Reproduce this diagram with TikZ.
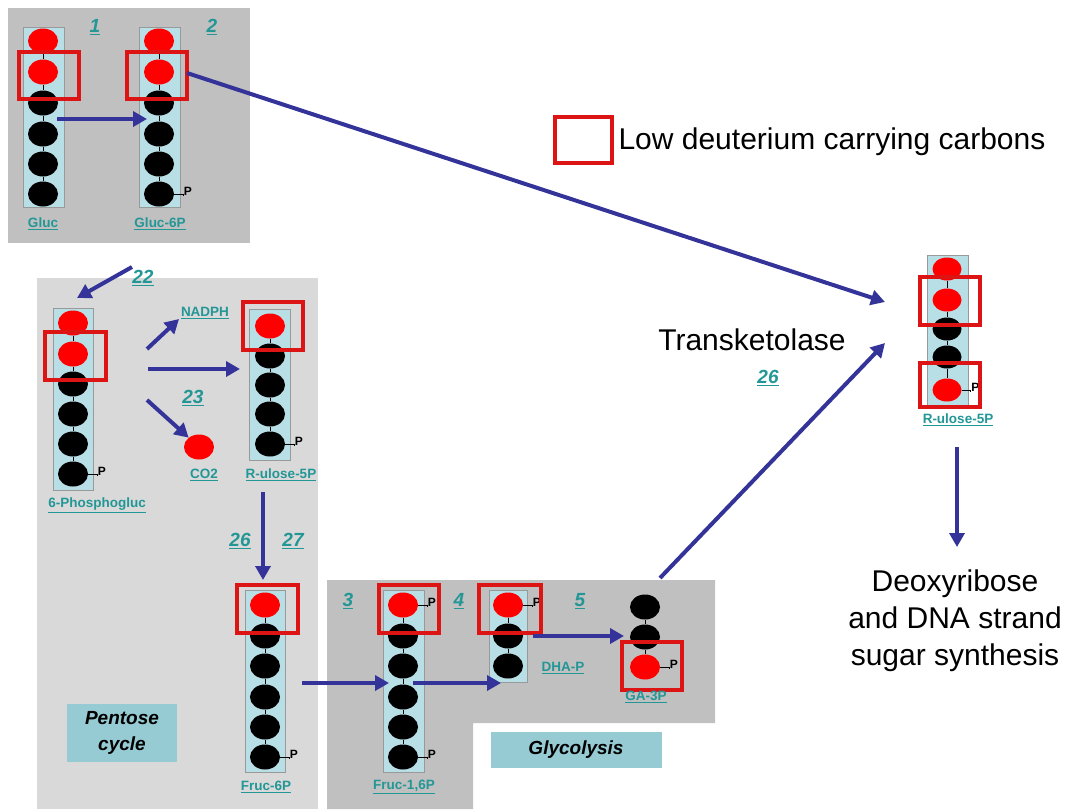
\documentclass[tikz,border=0pt]{standalone}
\usepackage{fontspec}
\setmainfont{Liberation Sans}
\usepackage{tikz}
\usetikzlibrary{arrows.meta}
\usetikzlibrary{positioning}
\usetikzlibrary{shapes.geometric}
\definecolor{arrowblue}{RGB}{51,51,153}
\definecolor{tealtxt}{RGB}{35,150,150}
\definecolor{stripcyan}{RGB}{184,222,230}
\definecolor{labcyan}{RGB}{150,203,212}
\definecolor{glygray}{RGB}{192,192,192}
\definecolor{pentgray}{RGB}{217,217,217}
\definecolor{boxred}{RGB}{220,20,20}

\tikzset{
  carb/.style={ellipse,minimum width=30pt,minimum height=25pt,inner sep=0pt},
  bond/.style={black,line width=1pt},
  strip/.style={fill=stripcyan,draw=gray!80,line width=0.6pt},
  lowbox/.style={draw=boxred,line width=3.6pt},
  flow/.style={arrowblue,line width=4pt,-{Triangle[length=14pt,width=15pt]}},
  molname/.style={text=tealtxt,font=\fontsize{13.5}{15}\selectfont\bfseries},
  stepnum/.style={text=tealtxt,font=\fontsize{19}{21}\selectfont\bfseries\itshape},
  plbl/.style={font=\fontsize{12}{14}\selectfont\bfseries,inner sep=0.5pt},
  bigtxt/.style={font=\fontsize{30}{37}\selectfont,align=center},
  pathname/.style={fill=labcyan,font=\fontsize{19}{26}\selectfont\bfseries\itshape,align=center}
}

\begin{document}
\begin{tikzpicture}[x=1pt,y=-1pt,line cap=butt,line join=miter]
\useasboundingbox (0,0) rectangle (1068,809);
% grey areas
\fill[glygray] (8,8) rectangle (250,243);
\fill[pentgray] (37,278) rectangle (318,809);
\fill[glygray] (327,580) -- (715,580) -- (715,723) -- (473,723) -- (473,809) -- (327,809) -- cycle;
\node[pathname,minimum width=110pt,minimum height=58pt] (pent) at (122,733) {Pentose\\cycle};
\node[pathname,minimum width=171pt,minimum height=36pt] (glyc) at (576,750) {Glycolysis};

% strips
\draw[strip] (23,27) rectangle (64,207);
\draw[strip] (139,27) rectangle (180,207);
\draw[strip] (53,308) rectangle (93,490);
\draw[strip] (249,309) rectangle (290,460);
\draw[strip] (245,590) rectangle (285,772);
\draw[strip] (383,590) rectangle (424,772);
\draw[strip] (489,590) rectangle (527,682);
\draw[strip] (927,255) rectangle (968,407);

% carbon chains
\foreach \y/\col [count=\i, remember=\i as \p (initially 0)] in {41/red,72/red,103/black,134/black,164/black,194/black}{
  \node[carb,fill=\col] (gl\i) at (43,\y) {};
  \node[carb,fill=\col] (gs\i) at (159,\y) {};
  \ifnum\i>1 \draw[bond] (gl\p) -- (gl\i); \draw[bond] (gs\p) -- (gs\i); \fi
}
\foreach \y/\col [count=\i, remember=\i as \p (initially 0)] in {323/red,354/red,384/black,414/black,444/black,474/black}{
  \node[carb,fill=\col] (pg\i) at (73,\y) {};
  \ifnum\i>1 \draw[bond] (pg\p) -- (pg\i); \fi
}
\foreach \y/\col [count=\i, remember=\i as \p (initially 0)] in {326/red,356/black,385/black,414/black,444/black}{
  \node[carb,fill=\col] (ru\i) at (270,\y) {};
  \ifnum\i>1 \draw[bond] (ru\p) -- (ru\i); \fi
}
\foreach \y/\col [count=\i, remember=\i as \p (initially 0)] in {605/red,636/black,666/black,697/black,727/black,757/black}{
  \node[carb,fill=\col] (fs\i) at (265,\y) {};
  \node[carb,fill=\col] (fb\i) at (403,\y) {};
  \ifnum\i>1 \draw[bond] (fs\p) -- (fs\i); \draw[bond] (fb\p) -- (fb\i); \fi
}
\foreach \y/\col [count=\i, remember=\i as \p (initially 0)] in {605/red,636/black,666/black}{
  \node[carb,fill=\col] (dh\i) at (508,\y) {};
  \ifnum\i>1 \draw[bond] (dh\p) -- (dh\i); \fi
}
\foreach \y/\col [count=\i, remember=\i as \p (initially 0)] in {607/black,637/black,667/red}{
  \node[carb,fill=\col] (ga\i) at (645,\y) {};
  \ifnum\i>1 \draw[bond] (ga\p) -- (ga\i); \fi
}
\foreach \y/\col [count=\i, remember=\i as \p (initially 0)] in {269/red,300/red,329/black,357/black,390/red}{
  \node[carb,fill=\col,minimum width=29pt,minimum height=23pt] (rr\i) at (947,\y) {};
  \ifnum\i>1 \draw[bond] (rr\p) -- (rr\i); \fi
}
\node[carb,fill=red] (co2) at (199,447) {};

% phosphates
\node[plbl,right=9pt of gs6,yshift=3pt] (gsP) {P};
\node[plbl,right=9pt of pg6,yshift=3pt] (pgP) {P};
\node[plbl,right=9pt of ru5,yshift=3pt] (ruP) {P};
\node[plbl,right=9pt of fs6,yshift=3pt] (fsP) {P};
\node[plbl,right=9pt of fb1,yshift=3pt] (fbP) {P};
\node[plbl,right=9pt of fb6,yshift=3pt] (fbQ) {P};
\node[plbl,right=9pt of dh1,yshift=3pt] (dhP) {P};
\node[plbl,right=9pt of ga3,yshift=3pt] (gaP) {P};
\node[plbl,right=9pt of rr5,yshift=3pt] (rrP) {P};
\foreach \a/\b in {gs6/gsP,pg6/pgP,ru5/ruP,fs6/fsP,fb1/fbP,fb6/fbQ,dh1/dhP,ga3/gaP,rr5/rrP}
  \draw[bond] (\a.east) -- (\a.east -| \b.west) -- (\b.south west);

% low deuterium boxes
\draw[lowbox] (19,52) rectangle (79,99);
\draw[lowbox] (127,52) rectangle (187,99);
\draw[lowbox] (45,332) rectangle (106,380);
\draw[lowbox] (243,302) rectangle (303,350);
\draw[lowbox] (237,585) rectangle (298,633);
\draw[lowbox] (379,585) rectangle (439,633);
\draw[lowbox] (479,585) rectangle (541,633);
\draw[lowbox] (622,642) rectangle (682,690);
\draw[lowbox] (920,277) rectangle (980,325);
\draw[lowbox] (920,363) rectangle (980,407);
\draw[lowbox] (555,117) rectangle (612,163);
\node[bigtxt,anchor=west] (legend) at (615,142) {Low deuterium carrying carbons};

% names
\node[molname] (nGl) at (43,224) {\underline{Gluc}};
\node[molname] (nGs) at (160,224) {\underline{Gluc-6P}};
\node[molname] (nPg) at (97,505) {\underline{6-Phosphogluc}};
\node[molname] (nNa) at (205,313) {\underline{NADPH}};
\node[molname] (nCo) at (204,475) {\underline{CO2}};
\node[molname] (nRu) at (281,475) {\underline{R-ulose-5P}};
\node[molname] (nFs) at (266,787) {\underline{Fruc-6P}};
\node[molname] (nFb) at (404,787) {\underline{Fruc-1,6P}};
\node[molname] (nDh) at (563,668) {\underline{DHA-P}};
\node[molname] (nGa) at (646,697) {\underline{GA-3P}};
\node[molname] (nRr) at (958,420) {\underline{R-ulose-5P}};

% step numbers
\node[stepnum] (s1) at (95,27) {\underline{1}};
\node[stepnum] (s2) at (212,27) {\underline{2}};
\node[stepnum] (s22) at (143,278) {\underline{22}};
\node[stepnum] (s23) at (193,398) {\underline{23}};
\node[stepnum] (s26) at (240,541) {\underline{26}};
\node[stepnum] (s27) at (293,541) {\underline{27}};
\node[stepnum] (s3) at (348,601) {\underline{3}};
\node[stepnum] (s4) at (459,601) {\underline{4}};
\node[stepnum] (s5) at (580,601) {\underline{5}};
\node[bigtxt] (tk) at (752,340) {Transketolase};
\node[stepnum] (s26b) at (768,378) {\underline{26}};
\node[bigtxt] (dna) at (955,621) {Deoxyribose\\and DNA strand\\sugar synthesis};

% arrows
\coordinate (aGl) at (57,119);   \coordinate (aGs) at (147,119);
\coordinate (aLs) at (187,73);   \coordinate (aLe) at (885,302);
\coordinate (a22s) at (132,267); \coordinate (a22e) at (77,298);
\coordinate (aNs) at (147,349);  \coordinate (aNe) at (179,319);
\coordinate (aRs) at (148,369);  \coordinate (aRe) at (240,369);
\coordinate (aCs) at (147,400);
\coordinate (aDs) at (263,492);  \coordinate (aDe) at (263,580);
\coordinate (aFs) at (302,683);  \coordinate (aFe) at (389,683);
\coordinate (aHs) at (413,683);  \coordinate (aHe) at (501,683);
\coordinate (aGs1) at (533,636); \coordinate (aGe1) at (624,636);
\coordinate (aTs) at (660,578);  \coordinate (aTe) at (885,343);
\coordinate (aXs) at (957,447);  \coordinate (aXe) at (957,547);
\draw[flow] (aGl) -- (aGs);
\draw[flow] (aLs) -- (aLe);
\draw[flow] (a22s) -- (a22e);
\draw[flow] (aNs) -- (aNe);
\draw[flow] (aRs) -- (aRe);
\draw[flow] (aCs) -- (co2);
\draw[flow] (aDs) -- (aDe);
\draw[flow] (aFs) -- (aFe);
\draw[flow] (aHs) -- (aHe);
\draw[flow] (aGs1) -- (aGe1);
\draw[flow] (aTs) -- (aTe);
\draw[flow] (aXs) -- (aXe);
\end{tikzpicture}
\end{document}
